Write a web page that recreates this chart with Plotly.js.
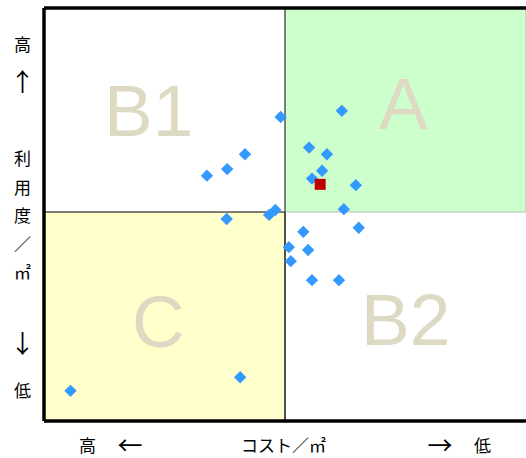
<!DOCTYPE html>
<html>
<head>
<meta charset="utf-8">
<script src="https://cdn.plot.ly/plotly-3.0.1.min.js"></script>
<style>html,body{margin:0;padding:0;background:#fff;overflow:hidden}</style>
</head>
<body>
<div id="chart" style="width:526px;height:458px"></div>
<script>
// cost per m2 (x, higher = lower cost) and utilisation per m2 (y)
const costX = [49.1, 61.8, 41.7, 38.0, 33.8, 55.0, 58.7, 57.7, 55.6, 64.7, 62.2, 48.0, 46.7, 37.9, 65.3, 53.8, 50.8, 54.8, 51.2, 55.6, 61.2, 5.5, 40.7];
const useY  = [73.6, 75.1, 64.6, 61.0, 59.4, 66.2, 64.6, 60.6, 58.7, 57.1, 51.3, 51.1, 49.9, 48.9, 46.8, 45.8, 42.1, 41.4, 38.7, 34.1, 34.1, 7.3, 10.6];
const targetX = [57.3];
const targetY = [57.3];
const quadrantNames = ["B1", "A", "C", "B2"];
const quadrantX = [21.6, 74.5, 23.7, 75.1];
const quadrantY = [75.3, 76.9, 24.0, 24.5];
const yLabels = ["高", "↑", "利", "用", "度", "／", "㎡", "↓", "低"];
const xLabels = ["高", "←", "コスト／㎡", "→", "低"];

const xMid = 50, yMid = 50.6;
const cjk = '"Noto Sans CJK JP", "Noto Sans", sans-serif';

const yLabelPix = [43.5, 80, 157, 186, 214.5, 243, 271, 342, 389];
const xLabelPix = [87, 130, 283, 440, 482];

const annotations = [];
quadrantNames.forEach((t, i) => annotations.push({
  x: quadrantX[i], y: quadrantY[i], xref: 'x', yref: 'y', text: t, showarrow: false,
  xanchor: 'center', yanchor: 'middle',
  font: {family: '"Liberation Sans", Arial, sans-serif', size: 73, color: '#ddd9c3'}
}));
yLabels.forEach((t, i) => {
  const arrow = (t === '↑' || t === '↓');
  annotations.push({
    x: 0, y: 0, xref: 'paper', yref: 'paper', text: t, showarrow: false,
    xanchor: 'center', yanchor: 'middle', xshift: -22, yshift: 421 - yLabelPix[i],
    font: {family: cjk, size: arrow ? 25 : 17, color: '#000'}
  });
});
xLabels.forEach((t, i) => {
  const arrow = (t === '←' || t === '→');
  annotations.push({
    x: 0, y: 0, xref: 'paper', yref: 'paper', text: arrow ? '\u00a0' + t + '\u00a0' : t, showarrow: false,
    xanchor: 'center', yanchor: 'middle', xshift: xLabelPix[i] - 44, yshift: 421 - 444,
    font: {family: cjk, size: arrow ? 25 : 17, color: '#000'}
  });
});

const shapes = [
  {type: 'rect', xref: 'x', yref: 'y', x0: 0, x1: xMid, y0: 0, y1: yMid, layer: 'below',
   fillcolor: '#ffffcc', line: {color: '#000', width: 1}},
  {type: 'rect', xref: 'x', yref: 'y', x0: xMid, x1: 100, y0: yMid, y1: 100, layer: 'below',
   fillcolor: '#ccffcc', line: {color: '#bbbbbb', width: 1}},
  {type: 'line', xref: 'x', yref: 'y', x0: xMid, x1: xMid, y0: 0, y1: 100, layer: 'below',
   line: {color: '#222', width: 1}},
  {type: 'line', xref: 'paper', yref: 'paper', x0: 0, x1: 0, y0: 0, y1: 1, line: {color: '#000', width: 3.5}},
  {type: 'line', xref: 'paper', yref: 'paper', x0: 0, x1: 1.01, y0: 1, y1: 1, line: {color: '#000', width: 3.5}},
  {type: 'line', xref: 'paper', yref: 'paper', x0: 0, x1: 1.01, y0: 0, y1: 0, line: {color: '#000', width: 3.5}}
];

const traces = [
  {x: costX, y: useY, type: 'scatter', mode: 'markers', cliponaxis: false,
   marker: {symbol: 'diamond', size: 9.5, color: '#3399ff'}},
  {x: targetX, y: targetY, type: 'scatter', mode: 'markers', cliponaxis: false,
   marker: {symbol: 'square', size: 11, color: '#c00000'}}
];

const layout = {
  width: 526, height: 458,
  margin: {l: 44, r: 0, t: 8, b: 37, pad: 0},
  paper_bgcolor: '#fff', plot_bgcolor: '#fff',
  showlegend: false,
  xaxis: {range: [0, 100], showgrid: false, zeroline: false, showticklabels: false, ticks: '', fixedrange: true},
  yaxis: {range: [0, 100], showgrid: false, zeroline: false, showticklabels: false, ticks: '', fixedrange: true},
  shapes: shapes,
  annotations: annotations
};

Plotly.newPlot('chart', traces, layout, {displayModeBar: false, staticPlot: true});
</script>
</body>
</html>
